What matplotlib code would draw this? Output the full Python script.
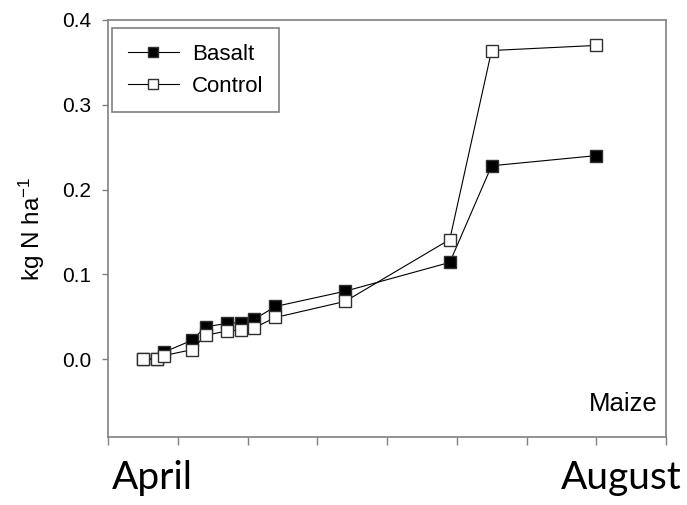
import numpy as np
import matplotlib.pyplot as plt

# sampling times (axis units, one tick per unit) and N values, kg N/ha
t_basalt = [0.5, 0.7, 0.8, 1.2, 1.4, 1.7, 1.9, 2.1, 2.4, 3.4, 4.9, 5.5, 7.0]
basalt = [0.0, 0.0, 0.008, 0.022, 0.038, 0.042, 0.043, 0.047, 0.062, 0.080, 0.114, 0.228, 0.240]

t_control = [0.5, 0.7, 0.8, 1.2, 1.4, 1.7, 1.9, 2.1, 2.4, 3.4, 4.9, 5.5, 7.0]
control = [0.0, 0.0, 0.004, 0.011, 0.028, 0.033, 0.034, 0.037, 0.049, 0.068, 0.141, 0.364, 0.370]

month_labels = ["April", "August"]

plt.rcParams["font.family"] = ["Liberation Sans", "DejaVu Sans"]
plt.rcParams["mathtext.fontset"] = "custom"
plt.rcParams["mathtext.rm"] = "Liberation Sans"
plt.rcParams["mathtext.it"] = "Liberation Sans"
plt.rcParams["mathtext.default"] = "regular"

W, H = 687, 505
fig = plt.figure(figsize=(W / 100, H / 100), dpi=100)
ax = fig.add_axes([108 / W, 1 - 437 / H, (666 - 108) / W, (437 - 20) / H])

ax.plot(t_basalt, basalt, color="black", lw=0.8, marker="s", ms=8.5,
        mfc="black", mec="#303030", mew=1, label="Basalt", zorder=2)
ax.plot(t_control, control, color="black", lw=0.8, marker="s", ms=8.5,
        mfc="white", mec="#303030", mew=1, label="Control", zorder=3)

ax.set_xlim(0, 8)
ax.set_ylim(-0.092, 0.4)
ax.set_xticks(np.arange(0, 9))
ax.set_xticklabels([])
ax.set_yticks([0.0, 0.1, 0.2, 0.3, 0.4])
ax.set_yticklabels(["0.0", "0.1", "0.2", "0.3", "0.4"], fontsize=15)

for s in ax.spines.values():
    s.set_color("#808080")
    s.set_linewidth(1.2)
ax.tick_params(axis="both", colors="#808080", width=1, labelcolor="black")
ax.tick_params(axis="x", length=6)
ax.tick_params(axis="y", length=4, pad=8)

ax.set_ylabel("kg N ha$^{-1}$", fontsize=17.5, labelpad=11)

ax.text(0.985, 0.05, "Maize", transform=ax.transAxes, ha="right", va="bottom",
        fontsize=18.5)

leg = ax.legend(loc="upper left", bbox_to_anchor=(112 / W, 1 - 28 / H),
                bbox_transform=fig.transFigure, borderaxespad=0, fancybox=False,
                edgecolor="#808080", framealpha=1, prop={"size": 16},
                handlelength=2.3, handletextpad=0.6, labelspacing=0.5, borderpad=0.7,
                markerscale=0.85)
leg.get_frame().set_linewidth(1.2)

fig.text(112 / W, 1 - 489 / H, month_labels[0], family="Lato", fontsize=28,
         ha="left", va="baseline")
fig.text(682 / W, 1 - 489 / H, month_labels[1], family="Lato", fontsize=28,
         ha="right", va="baseline")

fig.savefig("out.png", dpi=100)
